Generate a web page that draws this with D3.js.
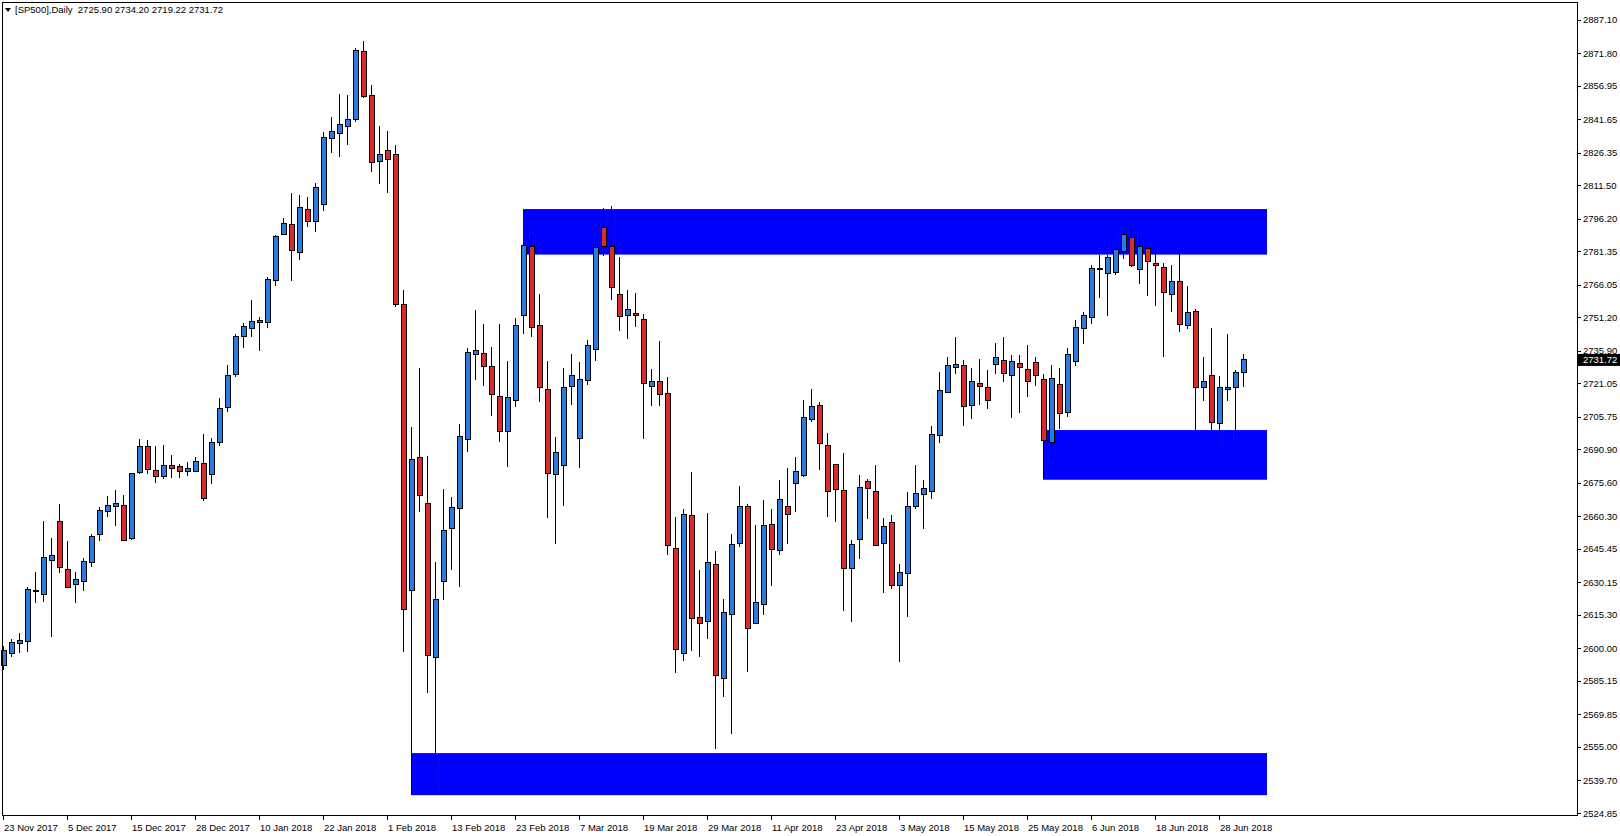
<!DOCTYPE html>
<html>
<head>
<meta charset="utf-8">
<script src="https://cdn.jsdelivr.net/npm/d3@7"></script>
<style>
  body { margin: 0; background: #fff; }
  text { font-family: "Liberation Sans", "DejaVu Sans", sans-serif; }
</style>
</head>
<body>
<div id="chart"></div>
<script>
// OHLC values, one entry per daily bar (23 Nov 2017 .. 29 Jun 2018)
var opens = [2592,2597.7,2602.1,2603.2,2626.0,2624.7,2640.0,2658.0,2636.1,2629.3,
  2630.6,2639.3,2652.1,2662.6,2664.9,2665.3,2650.3,2680.4,2692.3,2681.3,
  2678.6,2683.6,2683.1,2680.7,2680.9,2684.5,2679.4,2694.1,2709.9,2725.1,
  2742.5,2746.1,2748.9,2748.9,2768.1,2789.1,2793.6,2780.9,2800.5,2795.0,
  2802.8,2832.9,2835.2,2838.4,2841.6,2872.6,2852.5,2822.4,2827.4,2825.6,
  2757.1,2626.5,2687.2,2666.2,2595.9,2630.6,2654.8,2663.9,2695.5,2734.3,
  2734.7,2728.8,2715.1,2699.1,2713.3,2752.1,2783.6,2747.5,2718.3,2679.4,
  2683.6,2719.7,2695.9,2722.4,2736.5,2792.1,2783.4,2761.4,2751.9,2752.8,
  2750.0,2719.5,2721.8,2716.5,2645.7,2597.5,2660.6,2614.2,2612.4,2638.1,
  2586.3,2615.6,2648.0,2665.0,2611.5,2619.9,2656.5,2644.8,2664.6,2675.1,
  2678.9,2704.6,2711.0,2692.7,2684.1,2672.1,2636.6,2649.8,2676.3,2671.7,
  2648.0,2657.6,2628.8,2634.3,2664.9,2670.4,2671.7,2697.3,2716.9,2728.4,
  2729.3,2711.0,2721.1,2719.2,2729.7,2731.6,2724.7,2730.2,2727.4,2730.6,
  2722.9,2694.1,2720.6,2707.8,2731.1,2746.2,2751.2,2773.1,2771.3,2771.7,
  2781.3,2787.7,2773.1,2782.7,2775.8,2774.0,2761.6,2767.6,2747.5,2753.9,
  2719.2,2724.7,2702.8,2718.3,2719.2,2725.9];
var highs = [2601,2604.1,2606.9,2627.9,2634.7,2658.0,2650.3,2665.8,2648.9,2634.7,
  2641.1,2652.2,2664.6,2669.6,2672.3,2670.1,2679.9,2695.5,2695.1,2692.4,
  2692.9,2688.3,2684.2,2685.1,2687.2,2697.9,2695.9,2714.2,2729.4,2743.6,
  2748.4,2759.1,2751.1,2769.4,2788.6,2796.4,2807.8,2806.9,2806.0,2812.4,
  2835.6,2842.5,2853.0,2852.5,2874.0,2877.2,2857.1,2838.4,2836.1,2829.7,
  2763.5,2701.1,2727.9,2687.8,2639.4,2672.7,2669.1,2702.4,2737.1,2754.5,
  2748.1,2737.5,2748.1,2731.1,2750.7,2785.7,2789.2,2761.8,2731.1,2696.4,
  2727.9,2734.4,2730.6,2740.6,2786.3,2800.9,2802.1,2778.7,2763.8,2762.4,
  2752.8,2727.7,2740.4,2724.1,2659.9,2663.8,2680.5,2635.9,2661.7,2644.4,
  2622.4,2652.1,2674.2,2665.9,2656.2,2667.8,2663.6,2676.9,2682.4,2687.4,
  2713.4,2718.4,2712.4,2698.2,2684.1,2689.0,2649.5,2679.0,2677.2,2683.6,
  2659.4,2660.8,2638.4,2671.3,2683.6,2676.8,2701.4,2726.1,2732.9,2742.1,
  2731.6,2727.9,2732.0,2727.0,2739.3,2742.2,2733.8,2734.0,2738.4,2732.9,
  2725.2,2729.4,2727.9,2737.0,2749.8,2753.6,2775.1,2779.8,2779.8,2790.4,
  2790.0,2791.4,2788.6,2783.1,2782.2,2775.8,2774.9,2781.3,2765.3,2754.8,
  2732.9,2746.2,2724.2,2743.6,2727.0,2734.2];
var lows = [2590,2595.9,2597.7,2598.5,2620.6,2621.3,2605.3,2634.3,2627.9,2620.6,
  2626.3,2637.3,2649.1,2660.1,2656.0,2649.3,2649.6,2679.7,2679.7,2675.6,
  2677.5,2677.9,2677.9,2678.8,2680.9,2667.4,2675.2,2692.6,2708.0,2724.0,
  2737.0,2742.1,2735.9,2746.4,2765.6,2789.1,2767.9,2777.5,2792.3,2790.0,
  2799.8,2826.3,2824.5,2830.0,2840.5,2851.2,2817.6,2812.2,2808.1,2755.7,
  2598.5,2533.0,2662.4,2579.8,2534.0,2622.2,2636.0,2628.2,2689.5,2722.7,
  2719.9,2706.2,2694.4,2683.0,2710.3,2743.4,2742.1,2712.3,2659.4,2647.5,
  2664.9,2711.0,2682.2,2720.1,2731.4,2779.2,2759.1,2745.1,2741.4,2746.9,
  2695.6,2710.8,2710.8,2642.8,2588.9,2594.4,2598.7,2596.2,2604.3,2554.0,
  2577.9,2560.7,2646.1,2589.4,2611.5,2615.1,2628.5,2642.5,2647.5,2662.3,
  2678.4,2703.5,2681.6,2660.1,2657.9,2617.2,2612.2,2641.0,2659.2,2647.1,
  2625.4,2627.0,2594.0,2614.5,2663.5,2654.6,2668.3,2693.9,2716.9,2725.2,
  2701.7,2704.9,2711.0,2709.1,2725.2,2721.8,2705.1,2707.4,2714.7,2719.7,
  2677.8,2686.6,2700.3,2705.8,2729.1,2739.1,2748.3,2760.1,2751.9,2770.6,
  2777.9,2774.0,2766.5,2761.0,2756.5,2732.9,2753.8,2744.3,2746.0,2698.5,
  2712.9,2699.1,2691.2,2712.9,2696.7,2719.22];
var closes = [2599,2602.6,2603.7,2627.0,2626.3,2641.6,2642.5,2637.0,2627.9,2631.6,
  2639.8,2651.2,2663.1,2665.3,2666.2,2649.3,2679.9,2692.3,2681.8,2678.6,
  2683.6,2682.2,2680.7,2682.2,2685.4,2668.5,2694.1,2709.6,2724.7,2742.3,
  2747.1,2749.3,2749.8,2768.5,2788.2,2794.1,2781.8,2801.4,2795.0,2810.5,
  2833.4,2836.1,2839.3,2841.6,2873.1,2852.1,2821.9,2825.6,2823.3,2757.1,
  2617.8,2686.3,2669.9,2596.8,2622.4,2653.9,2664.4,2696.8,2735.2,2736.1,
  2728.8,2716.0,2699.1,2714.7,2747.5,2784.1,2746.6,2719.2,2679.9,2689.5,
  2719.2,2724.7,2722.9,2738.4,2783.1,2783.3,2765.0,2751.5,2754.6,2751.9,
  2720.9,2721.8,2716.0,2647.1,2599.3,2661.0,2613.7,2611.5,2639.0,2587.5,
  2616.4,2647.5,2664.6,2609.2,2620.9,2656.0,2645.2,2667.8,2661.1,2681.0,
  2705.5,2710.5,2693.5,2671.7,2672.6,2636.6,2647.5,2673.6,2673.1,2647.1,
  2655.7,2628.8,2634.7,2664.9,2670.8,2673.1,2697.8,2717.8,2729.3,2729.7,
  2710.5,2722.0,2719.7,2713.3,2732.9,2725.6,2731.1,2728.4,2722.0,2724.7,
  2695.0,2723.3,2707.4,2734.3,2746.6,2752.1,2773.6,2773.3,2778.5,2782.2,
  2789.1,2774.9,2783.6,2776.8,2774.9,2762.6,2767.6,2748.0,2753.5,2719.2,
  2722.0,2703.2,2719.2,2719.2,2726.1,2731.72];

// date labels on the time axis (bar index -> text)
var dateIdx = [0,8,16,24,32,40,48,56,64,72,80,88,96,104,112,120,128,136,144,152];
var dateLabels = ["23 Nov 2017","5 Dec 2017","15 Dec 2017","28 Dec 2017","10 Jan 2018",
  "22 Jan 2018","1 Feb 2018","13 Feb 2018","23 Feb 2018","7 Mar 2018","19 Mar 2018",
  "29 Mar 2018","11 Apr 2018","23 Apr 2018","3 May 2018","15 May 2018","25 May 2018",
  "6 Jun 2018","18 Jun 2018","28 Jun 2018"];

// price axis labels
var priceTicks = [2887.10,2871.80,2856.95,2841.65,2826.35,2811.50,2796.20,2781.35,2766.05,
  2751.20,2735.90,2721.05,2705.75,2690.90,2675.60,2660.30,2645.45,2630.15,2615.30,
  2600.00,2585.15,2569.85,2555.00,2539.70,2524.85];

// supply / demand zones: start bar, end bar, low, high
var zoneStart = [65, 130, 51];
var zoneEnd = [158, 158, 158];
var zoneLow = [2779.8, 2677.0, 2533.0];
var zoneHigh = [2800.6, 2699.7, 2552.2];

var header = "[SP500],Daily  2725.90 2734.20 2719.22 2731.72";

var W = 1620, H = 836,
    plotRight = 1577, plotBottom = 815;

var bars = opens.map((o, i) => ({ i: i, o: o, h: highs[i], l: lows[i], c: closes[i] }));

var svg = d3.select("#chart").append("svg")
  .attr("width", W).attr("height", H)
  .style("display", "block");

svg.append("rect").attr("width", W).attr("height", H).attr("fill", "#fff");

var x = d3.scaleLinear().domain([0, 1]).range([3, 11]);
var y = d3.scaleLinear().domain([2524.85, 2887.1]).range([813, 19.6]);

// zones
var zones = zoneStart.map((s, i) => ({ s: s, e: zoneEnd[i], lo: zoneLow[i], hi: zoneHigh[i] }));
svg.append("g").selectAll("rect").data(zones).join("rect")
  .attr("x", d => x(d.s))
  .attr("width", d => x(d.e) - x(d.s))
  .attr("y", d => y(d.hi))
  .attr("height", d => y(d.lo) - y(d.hi))
  .attr("fill", "#0000ff");

// candles
var g = svg.append("g").attr("shape-rendering", "crispEdges");
g.selectAll("line").data(bars).join("line")
  .attr("x1", d => Math.round(x(d.i)) + 0.5)
  .attr("x2", d => Math.round(x(d.i)) + 0.5)
  .attr("y1", d => y(d.h))
  .attr("y2", d => y(d.l))
  .attr("stroke", "#000").attr("stroke-width", 1);
g.selectAll("rect").data(bars).join("rect")
  .attr("x", d => Math.round(x(d.i)) - 2)
  .attr("width", 5)
  .attr("y", d => y(Math.max(d.o, d.c)))
  .attr("height", d => Math.max(1, y(Math.min(d.o, d.c)) - y(Math.max(d.o, d.c))))
  .attr("fill", d => d.c >= d.o ? "#2b7be0" : "#de2a2a")
  .attr("stroke", "#000").attr("stroke-width", 1);

// frame
svg.append("rect")
  .attr("x", 2.5).attr("y", 2.5)
  .attr("width", plotRight - 2).attr("height", plotBottom - 2)
  .attr("fill", "none").attr("stroke", "#000").attr("shape-rendering", "crispEdges");

// price axis
var ya = svg.append("g").attr("shape-rendering", "crispEdges");
ya.selectAll("line").data(priceTicks).join("line")
  .attr("x1", plotRight + 0.5).attr("x2", plotRight + 4)
  .attr("y1", d => Math.round(y(d)) + 0.5).attr("y2", d => Math.round(y(d)) + 0.5)
  .attr("stroke", "#000");
svg.append("g").selectAll("text").data(priceTicks).join("text")
  .attr("x", plotRight + 6).attr("y", d => y(d) + 3.5)
  .attr("font-size", 9.5).attr("fill", "#000")
  .text(d => d.toFixed(2));

// current price marker
var last = closes[closes.length - 1];
svg.append("rect")
  .attr("x", plotRight + 1).attr("y", y(last) - 6)
  .attr("width", W - plotRight - 1).attr("height", 12).attr("fill", "#000");
svg.append("text")
  .attr("x", plotRight + 6).attr("y", y(last) + 3.5)
  .attr("font-size", 9.5).attr("fill", "#fff")
  .text(last.toFixed(2));

// time axis
svg.append("g").attr("shape-rendering", "crispEdges")
  .selectAll("line").data(dateIdx).join("line")
  .attr("x1", d => Math.round(x(d)) + 0.5).attr("x2", d => Math.round(x(d)) + 0.5)
  .attr("y1", plotBottom).attr("y2", plotBottom + 5)
  .attr("stroke", "#000");
svg.append("g").selectAll("text").data(dateIdx).join("text")
  .attr("x", d => x(d) + 1).attr("y", plotBottom + 16)
  .attr("font-size", 9.5).attr("fill", "#000")
  .text((d, i) => dateLabels[i]);

// header
svg.append("path").attr("d", "M5,8 L11,8 L8,12 Z").attr("fill", "#000");
svg.append("text")
  .attr("x", 15).attr("y", 13)
  .attr("font-size", 9.5).attr("fill", "#000")
  .attr("xml:space", "preserve")
  .style("white-space", "pre")
  .text(header);
</script>
</body>
</html>
